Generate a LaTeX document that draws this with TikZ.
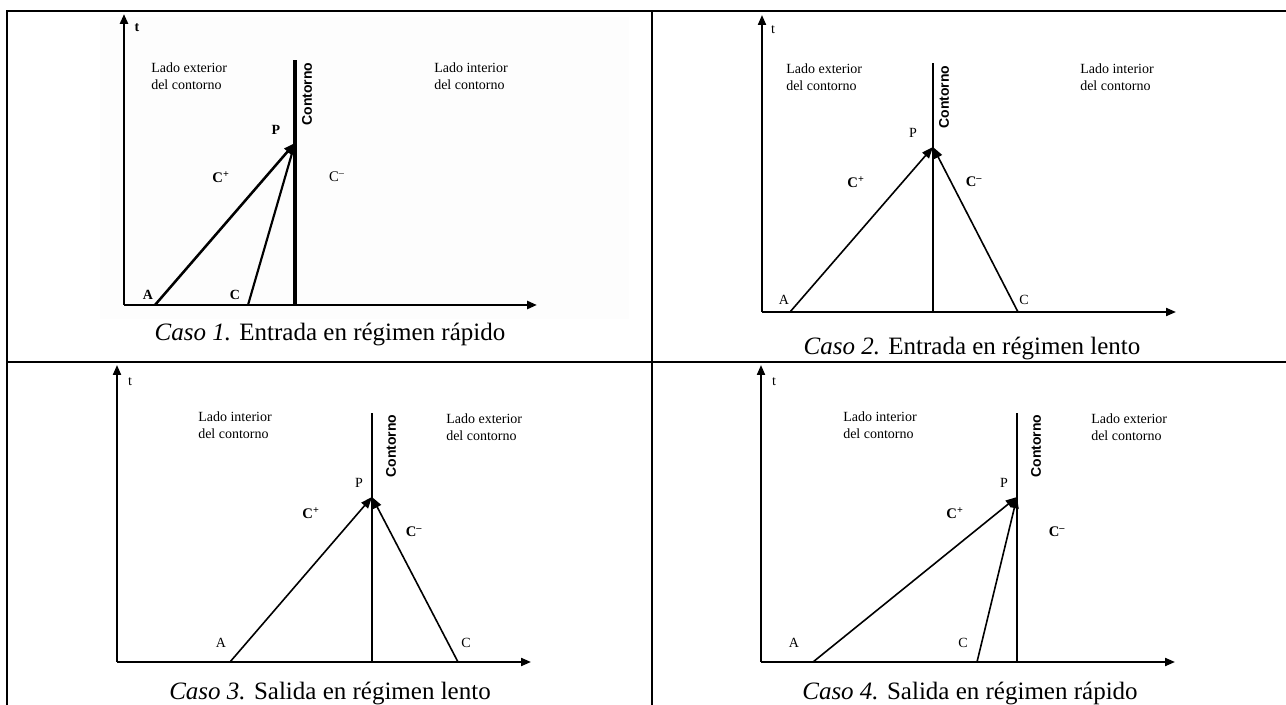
\documentclass[tikz,border=0pt]{standalone}
\usepackage{fontspec}
\setmainfont{Liberation Serif}
\setsansfont{Liberation Sans}
\usepackage{xcolor}
\usetikzlibrary{arrows.meta,positioning}
\definecolor{scan}{HTML}{FDFDFD}
\tikzset{
  axis/.style={-{Triangle[length=7.5pt,width=6pt]},line width=1.5pt},
  charline/.style={-{Triangle[length=8.5pt,width=6.5pt]},line width=1.2pt},
  bound/.style={line width=1.2pt},
  tablerule/.style={line width=1.8pt},
  lbl/.style={font=\fontsize{10.5}{12.75}\selectfont,inner sep=0pt},
  side/.style={lbl,align=left,anchor=north west},
  bndtext/.style={font=\sffamily\bfseries\fontsize{10.5}{12}\selectfont,rotate=90,inner sep=0pt},
  chlabel/.style={font=\bfseries\fontsize{11}{13}\selectfont,inner sep=0pt},
  caption/.style={font=\fontsize{18.75}{22}\selectfont,inner sep=0pt}
}

\begin{document}
\begin{tikzpicture}[x=0.75pt,y=-0.75pt]
  \useasboundingbox (0,0) rectangle (1286,705);

  % table rules
  \draw[tablerule] (7,705) -- (7,11) -- (1286,11);
  \draw[tablerule] (652,11) -- (652,705);
  \draw[tablerule] (7,362) -- (1286,362);

  % caso 1: entrada en regimen rapido
  \fill[scan] (100,17) rectangle (629,319);
  \coordinate (o1) at (124,305);
  \coordinate (t1) at (124,14);
  \coordinate (x1) at (537,305);
  \coordinate (k1) at (295,60);
  \coordinate (b1) at (295,305);
  \coordinate (p1) at (295,143);
  \coordinate (a1) at (155,305);
  \coordinate (c1) at (248,305);
  \draw[axis,line width=2pt] (o1) -- (t1);
  \draw[axis,line width=2pt] (o1) -- (x1);
  \draw[bound,line width=2.4pt] (b1) -- (k1);
  \draw[charline,line width=1.9pt] (a1) -- (p1);
  \draw[charline,line width=1.6pt] (c1) -- (p1);
  \node[lbl,font=\bfseries\fontsize{10.5}{12}\selectfont] (tl1) at (137,28) {t};
  \node[side] (ext1) at (151,63) {Lado exterior\\del contorno};
  \node[side] (int1) at (434,63) {Lado interior\\del contorno};
  \node[bndtext] (kl1) at (307,94) {Contorno};
  \node[lbl,font=\bfseries\fontsize{10.5}{12}\selectfont] (pl1) at (276,130) {P};
  \node[chlabel] (cp1) at (221,177) {C\textsuperscript{+}};
  \node[chlabel,font=\fontsize{11}{13}\selectfont] (cm1) at (337,177) {C\textsuperscript{--}};
  \node[lbl,font=\bfseries\fontsize{10.5}{12}\selectfont] (al1) at (148,295) {A};
  \node[lbl,font=\bfseries\fontsize{10.5}{12}\selectfont] (cl1) at (235,295) {C};
  \node[caption] (cap1) at (330,335) {\textit{Caso 1.} Entrada en régimen rápido};

  % caso 2: entrada en regimen lento
  \coordinate (o2) at (762,312);
  \coordinate (t2) at (762,15);
  \coordinate (x2) at (1176,312);
  \coordinate (k2) at (933,63);
  \coordinate (b2) at (933,312);
  \coordinate (p2) at (933,147);
  \coordinate (a2) at (790,312);
  \coordinate (c2) at (1018,312);
  \draw[axis] (o2) -- (t2);
  \draw[axis] (o2) -- (x2);
  \draw[bound] (b2) -- (k2);
  \draw[charline] (a2) -- (p2);
  \draw[charline] (c2) -- (p2);
  \node[lbl] (tl2) at (773,30) {t};
  \node[side] (ext2) at (786,64) {Lado exterior\\del contorno};
  \node[side] (int2) at (1080,64) {Lado interior\\del contorno};
  \node[bndtext] (kl2) at (944,97) {Contorno};
  \node[lbl] (pl2) at (913,133) {P};
  \node[chlabel] (cp2) at (856,182) {C\textsuperscript{+}};
  \node[chlabel] (cm2) at (974,182) {C\textsuperscript{--}};
  \node[lbl] (al2) at (784,300) {A};
  \node[lbl] (cl2) at (1024,300) {C};
  \node[caption] (cap2) at (972,349) {\textit{Caso 2.} Entrada en régimen lento};

  % caso 3: salida en regimen lento
  \coordinate (o3) at (117,662);
  \coordinate (t3) at (117,365);
  \coordinate (x3) at (531,662);
  \coordinate (k3) at (372,413);
  \coordinate (b3) at (372,662);
  \coordinate (p3) at (372,497);
  \coordinate (a3) at (230,662);
  \coordinate (c3) at (458,662);
  \draw[axis] (o3) -- (t3);
  \draw[axis] (o3) -- (x3);
  \draw[bound] (b3) -- (k3);
  \draw[charline] (a3) -- (p3);
  \draw[charline] (c3) -- (p3);
  \node[lbl] (tl3) at (130,382) {t};
  \node[side] (int3) at (198,412) {Lado interior\\del contorno};
  \node[side] (ext3) at (446,414) {Lado exterior\\del contorno};
  \node[bndtext] (kl3) at (391,446) {Contorno};
  \node[lbl] (pl3) at (359,483) {P};
  \node[chlabel] (cp3) at (311,513) {C\textsuperscript{+}};
  \node[chlabel] (cm3) at (414,532) {C\textsuperscript{--}};
  \node[lbl] (al3) at (221,643) {A};
  \node[lbl] (cl3) at (466,643) {C};
  \node[caption] (cap3) at (330,694) {\textit{Caso 3.} Salida en régimen lento};

  % caso 4: salida en regimen rapido
  \coordinate (o4) at (761,662);
  \coordinate (t4) at (761,365);
  \coordinate (x4) at (1175,662);
  \coordinate (k4) at (1017,413);
  \coordinate (b4) at (1017,662);
  \coordinate (p4) at (1017,497);
  \coordinate (a4) at (813,662);
  \coordinate (c4) at (977,662);
  \draw[axis] (o4) -- (t4);
  \draw[axis] (o4) -- (x4);
  \draw[bound] (b4) -- (k4);
  \draw[charline] (a4) -- (p4);
  \draw[charline] (c4) -- (p4);
  \node[lbl] (tl4) at (774,382) {t};
  \node[side] (int4) at (843,412) {Lado interior\\del contorno};
  \node[side] (ext4) at (1091,414) {Lado exterior\\del contorno};
  \node[bndtext] (kl4) at (1036,446) {Contorno};
  \node[lbl] (pl4) at (1004,483) {P};
  \node[chlabel] (cp4) at (955,513) {C\textsuperscript{+}};
  \node[chlabel] (cm4) at (1057,532) {C\textsuperscript{--}};
  \node[lbl] (al4) at (794,643) {A};
  \node[lbl] (cl4) at (963,643) {C};
  \node[caption] (cap4) at (970,694) {\textit{Caso 4.} Salida en régimen rápido};
\end{tikzpicture}
\end{document}
